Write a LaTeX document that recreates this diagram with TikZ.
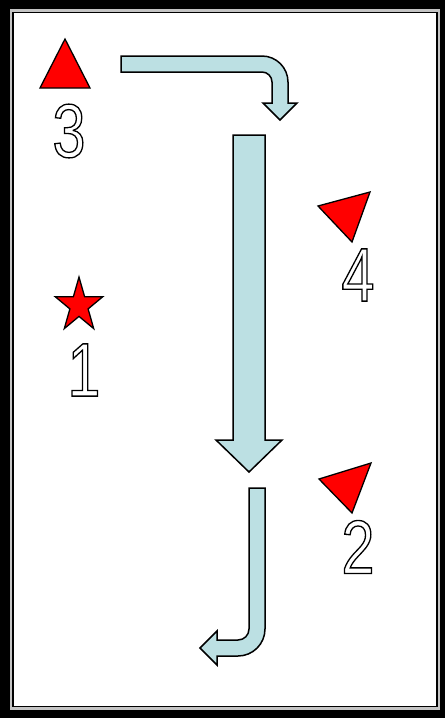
\documentclass[tikz,border=0pt]{standalone}
\usepackage{xcolor}
\usepackage{tikz}
\usepackage{fontspec}
\newfontfamily\digitfont[FakeStretch=0.78]{Liberation Sans}
\newcommand\hollow[1]{\special{pdf:literal direct 1 Tr 1.3 w}#1\special{pdf:literal direct 0 Tr}}
\definecolor{mapred}{HTML}{FF0000}
\definecolor{mapblue}{HTML}{BCE0E3}
\definecolor{mapgray}{HTML}{C4C4C4}

\begin{document}
\begin{tikzpicture}[x=1pt,y=-1pt,
  marker/.style={fill=mapred,draw=black,line width=1.3,line join=miter},
  flow/.style={fill=mapblue,draw=black,line width=1.5,line join=miter},
  digit/.style={inner sep=0pt,font=\digitfont\fontsize{76}{76}\selectfont}]
  \fill[black] (0,0) rectangle (445,718);
  \fill[mapgray] (10,9) rectangle (440,710);
  \filldraw[fill=white,draw=black,line width=1.5] (13,12.5) rectangle (437,706.5);
  \draw[marker] (65,39) -- (90,88) -- (40,88) -- cycle;
  \draw[marker] (318,206) -- (370,192) -- (352,242) -- cycle;
  \draw[marker] (319,479) -- (371,463) -- (352,513) -- cycle;
  \draw[marker] (79,277) -- (84.6,296.7) -- (102.8,296.7) -- (88.1,308.9) -- (93.7,328.6)
    -- (79,316.4) -- (64.3,328.6) -- (69.9,308.9) -- (55.2,296.7) -- (73.4,296.7) -- cycle;
  \draw[flow] (121,56) -- (262,56) .. controls (276.3,56) and (288,67.7) .. (288,82)
    -- (288,103) -- (297,103) -- (280,120) -- (263,103) -- (272,103) -- (272,82)
    .. controls (272,76.5) and (267.5,72) .. (262,72) -- (121,72) -- cycle;
  \draw[flow] (233,135) -- (265,135) -- (265,440) -- (282,440) -- (249,472)
    -- (216,440) -- (233,440) -- cycle;
  \draw[flow] (249,488) -- (265,488) -- (265,629) .. controls (265,643.9) and (252.9,656) .. (238,656)
    -- (217,656) -- (217,665) -- (200,648) -- (217,631) -- (217,640) -- (238,640)
    .. controls (244.1,640) and (249,635.1) .. (249,629) -- cycle;
  \node[digit] (labelthree) at (69,131) {\hollow{3}};
  \node[digit] (labelfour) at (358,275) {\hollow{4}};
  \node[digit] (labelone) at (84,370) {\hollow{1}};
  \node[digit] (labeltwo) at (358,547) {\hollow{2}};
\end{tikzpicture}
\end{document}
